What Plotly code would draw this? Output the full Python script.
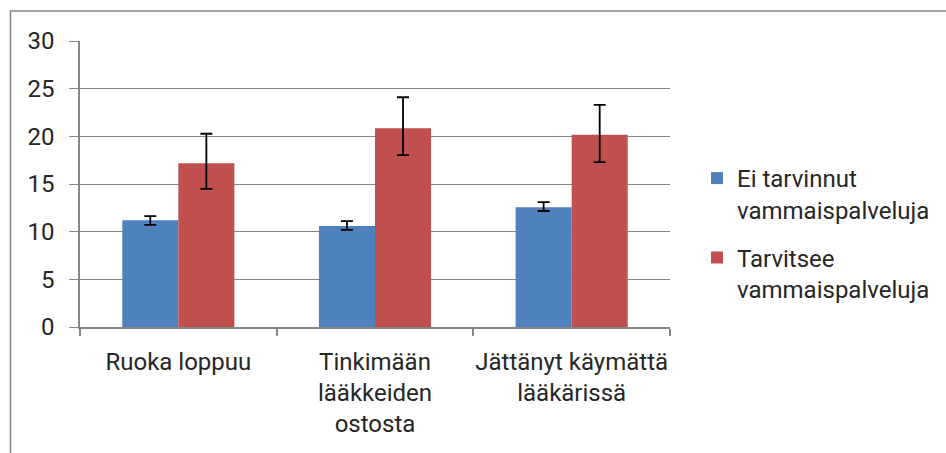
import plotly.graph_objects as go

# Categories and series values (confidence intervals are asymmetric)
categories = ["Ruoka loppuu", "Tinkimään<br>lääkkeiden<br>ostosta", "Jättänyt käymättä<br>lääkärissä"]
series_names = ["Ei tarvinnut<br>vammaispalveluja", "Tarvitsee<br>vammaispalveluja"]
ei_tarvinnut = [11.2, 10.6, 12.55]
ei_tarvinnut_err_plus = [0.42, 0.5, 0.55]
ei_tarvinnut_err_minus = [0.48, 0.42, 0.38]
tarvitsee = [17.17, 20.85, 20.17]
tarvitsee_err_plus = [3.1, 3.25, 3.12]
tarvitsee_err_minus = [2.68, 2.82, 2.87]
y_ticks = [0, 5, 10, 15, 20, 25, 30]

W, H = 946, 453
L, R, T, B = 80, 276, 41, 126
FONT = "Roboto, 'Open Sans', sans-serif"
TXT = "#262626"
GRID = "#868686"

fig = go.Figure()
fig.add_trace(go.Bar(
    x=categories, y=ei_tarvinnut, name=series_names[0], legendgroup="g1",
    marker=dict(color="#4F81BD", line=dict(width=0)),
    error_y=dict(type="data", symmetric=False, array=ei_tarvinnut_err_plus,
                 arrayminus=ei_tarvinnut_err_minus, color="black", thickness=1.8, width=6),
))
fig.add_trace(go.Bar(
    x=categories, y=tarvitsee, name=series_names[1], legendgroup="g2",
    marker=dict(color="#C0504D", line=dict(width=0)),
    error_y=dict(type="data", symmetric=False, array=tarvitsee_err_plus,
                 arrayminus=tarvitsee_err_minus, color="black", thickness=1.8, width=6),
))

# outer chart-area frame (pixel positions converted to paper coordinates)
pw, ph = W - L - R, H - T - B
def px(x):
    return (x - L) / pw
def py(y):
    return (H - B - y) / ph

fig.add_shape(type="rect", xref="paper", yref="paper",
              x0=px(10.5), x1=px(980), y0=py(11), y1=py(490),
              line=dict(color=GRID, width=1.6), fillcolor="rgba(0,0,0,0)", layer="below")

fig.update_layout(
    width=W, height=H,
    margin=dict(l=L, r=R, t=T, b=B, autoexpand=False),
    paper_bgcolor="white", plot_bgcolor="white",
    barmode="group", bargap=0.43, bargroupgap=0,
    font=dict(family=FONT, size=24, color=TXT),
    showlegend=True,
    legend=dict(
        x=px(697), xanchor="left", y=py(156), yanchor="top",
        font=dict(family=FONT, size=24, color=TXT),
        valign="top", bgcolor="rgba(0,0,0,0)",
        tracegroupgap=14,
    ),
    xaxis=dict(
        type="category", showgrid=False, automargin=False, tickangle=0,
        showline=True, linecolor=GRID, linewidth=1.6,
        ticks="outside", tickson="boundaries", ticklen=7, tickcolor=GRID, tickwidth=1.6,
        tickfont=dict(family=FONT, size=24, color=TXT),
        ticklabelstandoff=12,
    ),
    yaxis=dict(
        range=[0, 30], tickvals=y_ticks, automargin=False,
        showgrid=True, gridcolor=GRID, gridwidth=1.4,
        showline=True, linecolor=GRID, linewidth=1.6,
        ticks="outside", ticklen=9, tickcolor=GRID, tickwidth=1.4,
        tickfont=dict(family=FONT, size=24, color=TXT),
        ticklabelstandoff=10,
        zeroline=False,
    ),
)

fig.write_html("out.html")
